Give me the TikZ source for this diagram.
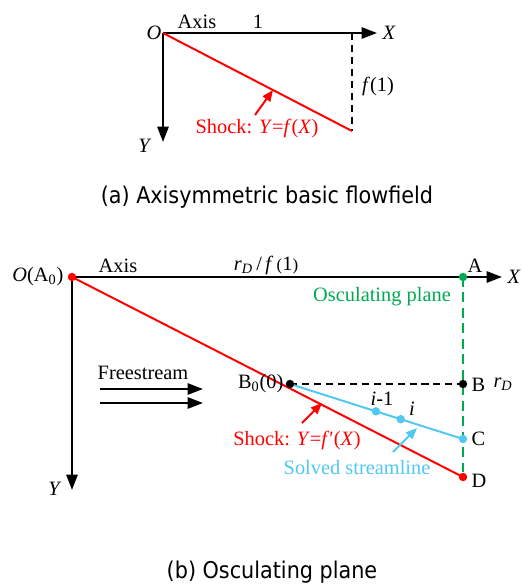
\documentclass[tikz,border=0pt]{standalone}
\usepackage{fontspec}
\setmainfont{Liberation Serif}
\newfontfamily\capfont{DejaVu Sans Condensed}
\usepackage{xcolor}
\usetikzlibrary{arrows.meta,calc}
\definecolor{shockred}{RGB}{255,0,0}
\definecolor{streamblue}{RGB}{80,200,240}
\definecolor{planegreen}{RGB}{0,170,80}
\newcommand{\ital}[1]{\textit{#1}}
\tikzset{
 axisline/.style={line width=1.6pt,-{Triangle[length=11pt,width=8pt]}},
 smallarrow/.style={line width=1.4pt,-{Triangle[length=8pt,width=6.5pt]}},
 dashline/.style={line width=1.4pt,dash pattern=on 5pt off 3.5pt},
 ptdot/.style={circle,fill,inner sep=0pt,minimum size=6pt},
 lbl/.style={font=\fontsize{14.5}{17}\selectfont,inner sep=1pt},
 caption/.style={font=\capfont\fontsize{16.4}{19}\selectfont}
}
\begin{document}
\begin{tikzpicture}[x=0.025cm,y=-0.025cm]
\useasboundingbox(0,0)rectangle(523,587);
% (a) basic flowfield
\coordinate(O1)at(163,33);
\coordinate(X1)at(377,33);
\coordinate(Y1)at(163,142);
\coordinate(P1)at(352,33);
\coordinate(Q1)at(352,131);
\draw[axisline](O1)--(X1);
\draw[axisline](O1)--(Y1);
\draw[dashline](P1)--(Q1);
\draw[line width=1.4pt,shockred](O1)--(Q1);
\node[lbl,anchor=east](o1)at(O1){\ital{O}};
\node[lbl,anchor=west](x1)at($(X1)+(4,0)$){\ital{X}};
\node[lbl](y1)at(145,146){\ital{Y}};
\node[lbl](axis1)at(197,22){Axis};
\node[lbl](one)at(258,22){1};
\node[lbl](f1)at(378,86){\ital{f}(1)};
\node[lbl,shockred](shock1)at(257,128){Shock: \ital{Y}=\ital{f}(\ital{X})};
\coordinate(s1)at(255,115);
\coordinate(t1)at(273,90);
\draw[smallarrow,shockred](s1)--(t1);
\node[caption](capa)at(267,197){(a) Axisymmetric basic flowfield};
% (b) osculating plane
\coordinate(O2)at(72,277);
\coordinate(X2)at(502,277);
\coordinate(Y2)at(72,490);
\coordinate(A)at(463,277);
\coordinate(B0)at(290,384);
\coordinate(B)at(463,384);
\coordinate(C)at(463,439);
\coordinate(D)at(463,477);
\draw[axisline](O2)--(X2);
\draw[axisline](O2)--(Y2);
\draw[line width=1.4pt,planegreen,dash pattern=on 7pt off 4pt](A)--(D);
\draw[dashline](B0)--(B);
\draw[line width=1.4pt,shockred](O2)--(D);
\draw[line width=1.4pt,streamblue](B0)--(C);
\node[ptdot,shockred](o2)at(O2){};
\node[ptdot,planegreen](a)at(A){};
\node[ptdot](b0)at(B0){};
\node[ptdot](b)at(B){};
\node[ptdot,streamblue](c)at(C){};
\node[ptdot,shockred](d)at(D){};
\node[ptdot,streamblue](pim)at($(B0)!0.497!(C)$){};
\node[ptdot,streamblue](pi)at($(B0)!0.64!(C)$){};
\node[lbl,anchor=east](o2l)at(65,277){\ital{O}(A\textsubscript{0})};
\node[lbl,anchor=west](x2)at($(X2)+(4,0)$){\ital{X}};
\node[lbl](y2)at(55,489){\ital{Y}};
\node[lbl](axis2)at(118,266){Axis};
\node[lbl](rdf)at(266,265){\ital{r}\textsubscript{\ital{D}}\,{\Large/}\,\ital{f}\,{\large(}1{\large)}};
\node[lbl](al)at(475,266){A};
\node[lbl,planegreen](plane)at(382,297){Osculating plane};
\node[lbl,anchor=west](bl)at(470,385){B};
\node[lbl](rd)at(503,384){\ital{r}\textsubscript{\ital{D}}};
\node[lbl,anchor=west](cl)at(470,439){C};
\node[lbl,anchor=west](dl)at(470,481){D};
\node[lbl,anchor=east](b0l)at(285,384){B\textsubscript{0}(0)};
\node[lbl](iml)at(382,399){\ital{i}-1};
\node[lbl](il)at(412,409){\ital{i}};
\node[lbl](free)at(143,373){Freestream};
\coordinate(f1s)at(100,389);
\coordinate(f1e)at(203,389);
\coordinate(f2s)at(100,403);
\coordinate(f2e)at(203,403);
\draw[axisline](f1s)--(f1e);
\draw[axisline](f2s)--(f2e);
\node[lbl,shockred](shock2)at(297,440){Shock: \ital{Y}=\ital{f}\symbol{"2032}(\ital{X})};
\coordinate(s2)at(302,423);
\coordinate(t2)at(322,403);
\draw[smallarrow,shockred](s2)--(t2);
\node[lbl,streamblue](stream)at(357,468){Solved streamline};
\coordinate(s3)at(393,452);
\coordinate(t3)at(417,428);
\draw[smallarrow,streamblue](s3)--(t3);
\node[caption](capb)at(272,572){(b) Osculating plane};
\end{tikzpicture}
\end{document}
